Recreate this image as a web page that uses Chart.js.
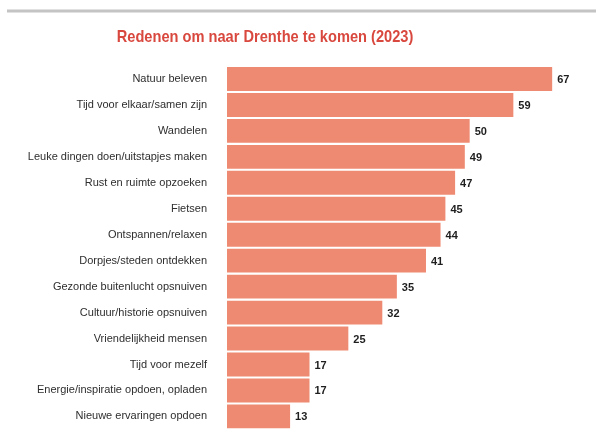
<!DOCTYPE html>
<html>
<head>
<meta charset="utf-8">
<script src="https://cdn.jsdelivr.net/npm/chart.js@4"></script>
<style>
  html, body { margin: 0; padding: 0; background: #fff; }
  #wrap { width: 596px; height: 448px; }
</style>
</head>
<body>
<div id="wrap"><canvas id="redenenChart" width="596" height="448"></canvas></div>
<script>
const chartTitle = 'Redenen om naar Drenthe te komen (2023)';

const redenen = [
    'Natuur beleven',
    'Tijd voor elkaar/samen zijn',
    'Wandelen',
    'Leuke dingen doen/uitstapjes maken',
    'Rust en ruimte opzoeken',
    'Fietsen',
    'Ontspannen/relaxen',
    'Dorpjes/steden ontdekken',
    'Gezonde buitenlucht opsnuiven',
    'Cultuur/historie opsnuiven',
    'Vriendelijkheid mensen',
    'Tijd voor mezelf',
    'Energie/inspiratie opdoen, opladen',
    'Nieuwe ervaringen opdoen'
];

const percentages = [67, 59, 50, 49, 47, 45, 44, 41, 35, 32, 25, 17, 17, 13];

const barColor = '#ef8a72';
const titleColor = '#d9483e';

document.addEventListener('DOMContentLoaded', () => {
    // grey rule at the top + the title, centred over the bars/labels block
    const headerPlugin = {
        id: 'header',
        beforeDraw(chart) {
            const ctx = chart.ctx;
            ctx.save();
            ctx.fillStyle = '#ffffff';
            ctx.fillRect(0, 0, chart.width, chart.height);
            ctx.strokeStyle = '#c4c4c4';
            ctx.lineWidth = 3;
            ctx.beginPath();
            ctx.moveTo(7, 11);
            ctx.lineTo(chart.width, 11);
            ctx.stroke();
            // no condensed face installed, so squeeze the bold one a bit
            ctx.translate(265, 37);
            ctx.scale(0.86, 1);
            ctx.fillStyle = titleColor;
            ctx.font = 'bold 17px "Liberation Sans", sans-serif';
            ctx.textAlign = 'center';
            ctx.textBaseline = 'middle';
            ctx.fillText(chartTitle, 0, 0);
            ctx.restore();
        }
    };

    // value next to the end of each bar
    const valueLabels = {
        id: 'valueLabels',
        afterDatasetsDraw(chart) {
            const ctx = chart.ctx;
            const meta = chart.getDatasetMeta(0);
            ctx.save();
            ctx.fillStyle = '#1e1e1e';
            ctx.font = 'bold 11px "Liberation Sans", sans-serif';
            ctx.textAlign = 'left';
            ctx.textBaseline = 'middle';
            meta.data.forEach((bar, i) => {
                ctx.fillText(String(percentages[i]), bar.x + 5, bar.y + 1);
            });
            ctx.restore();
        }
    };

    const ctx = document.getElementById('redenenChart').getContext('2d');
    new Chart(ctx, {
        type: 'bar',
        data: {
            labels: redenen,
            datasets: [{
                data: percentages,
                backgroundColor: barColor,
                borderWidth: 0,
                barPercentage: 0.92,
                categoryPercentage: 1
            }]
        },
        options: {
            indexAxis: 'y',
            responsive: false,
            animation: false,
            layout: {
                padding: { top: 66, bottom: 15, left: 0, right: 5 }
            },
            plugins: {
                legend: { display: false },
                title: { display: false },
                tooltip: { enabled: false }
            },
            scales: {
                x: {
                    display: false,
                    min: 0,
                    max: 75
                },
                y: {
                    grid: { display: false },
                    border: { display: false },
                    afterFit(scale) {
                        scale.width = 227;
                    },
                    ticks: {
                        color: '#2e2e2e',
                        padding: 12,
                        font: { family: '"Liberation Sans", sans-serif', size: 11 }
                    }
                }
            }
        },
        plugins: [headerPlugin, valueLabels]
    });
});
</script>
</body>
</html>
